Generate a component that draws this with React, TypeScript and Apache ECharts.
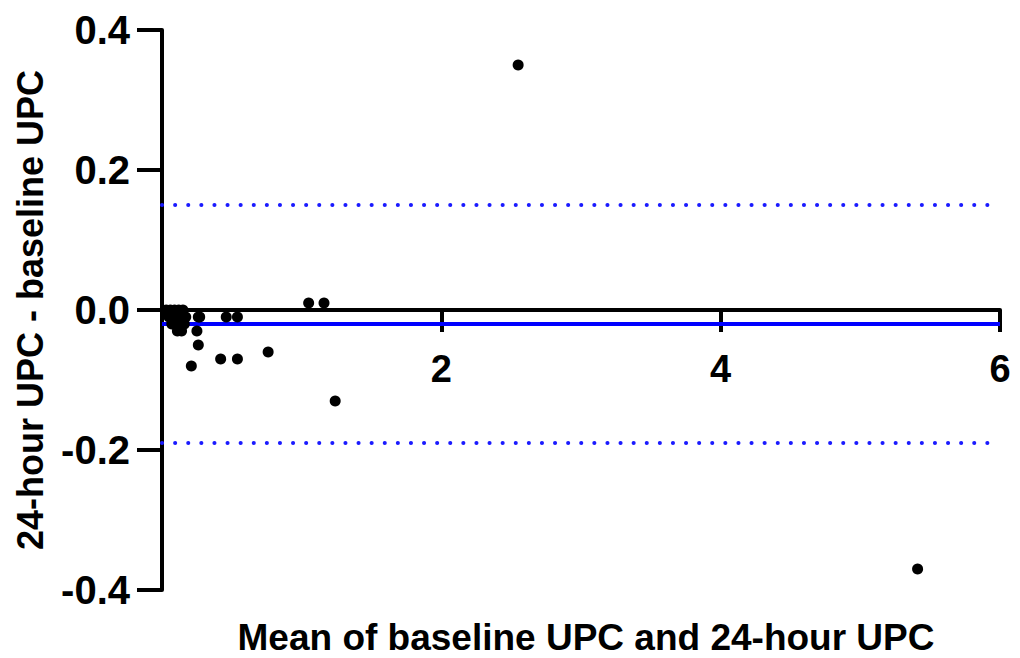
import React, { useEffect, useRef } from "react";
import * as echarts from "echarts";

const meanX: number[] = [0.03, 0.06, 0.09, 0.12, 0.15, 0.05, 0.08, 0.11, 0.14, 0.17, 0.07, 0.1, 0.13, 0.16, 0.11, 0.14, 0.26, 0.27, 0.25, 0.26, 0.21, 0.46, 0.54, 0.42, 0.54, 0.76, 1.05, 1.16, 1.24, 2.55, 5.41];
const diffY: number[] = [0.0, 0.0, 0.0, 0.0, 0.0, -0.01, -0.01, -0.01, -0.01, -0.01, -0.02, -0.02, -0.02, -0.02, -0.03, -0.03, -0.01, -0.01, -0.03, -0.05, -0.08, -0.01, -0.01, -0.07, -0.07, -0.06, 0.01, 0.01, -0.13, 0.35, -0.37];
const bias = -0.02;
const limitsOfAgreement: number[] = [0.147, -0.19];
const yTicks: number[] = [-0.4, -0.2, 0, 0.2, 0.4];

const FONT = "'Liberation Sans', Arial, sans-serif";

export default function App() {
  const ref = useRef<HTMLDivElement>(null);
  useEffect(() => {
    if (!ref.current) return;
    const chart = echarts.init(ref.current, null, { renderer: "svg" });
    const points = meanX.map((x, i) => [x, diffY[i]]);
    chart.setOption({
      animation: false,
      backgroundColor: "#ffffff",
      grid: { left: 162, right: 20, top: 30, bottom: 68, containLabel: false, outerBoundsMode: "none" },
      title: {
        text: "Mean of baseline UPC and 24-hour UPC",
        left: 586,
        textAlign: "center",
        top: 618,
        padding: 0,
        textStyle: { fontFamily: FONT, fontWeight: "bold", fontSize: 37, lineHeight: 38, color: "#000" },
      },
      xAxis: {
        type: "value",
        min: 0,
        max: 6,
        interval: 2,
        axisLine: { onZero: true, lineStyle: { color: "#000", width: 4 } },
        axisTick: { show: true, inside: false, length: 22, lineStyle: { color: "#000", width: 4 } },
        axisLabel: {
          margin: -240,
          fontFamily: FONT,
          fontWeight: "bold",
          fontSize: 38,
          color: "#000",
          formatter: (v: number) => (v === 0 ? "" : String(v)),
        },
        splitLine: { show: false },
      },
      yAxis: {
        type: "value",
        min: -0.4,
        max: 0.4,
        interval: 0.2,
        name: "24-hour UPC - baseline UPC",
        nameLocation: "middle",
        nameGap: 114,
        nameTextStyle: { fontFamily: FONT, fontWeight: "bold", fontSize: 36, color: "#000" },
        axisLine: { onZero: false, lineStyle: { color: "#000", width: 4 } },
        axisTick: { show: true, inside: false, length: 25, lineStyle: { color: "#000", width: 4 } },
        axisLabel: {
          margin: 32,
          fontFamily: FONT,
          fontWeight: "bold",
          fontSize: 40,
          color: "#000",
          formatter: (v: number) => {
            const t = yTicks.find((k) => Math.abs(k - v) < 1e-9);
            return (t !== undefined ? t : v).toFixed(1);
          },
        },
        splitLine: { show: false },
      },
      series: [
        {
          type: "line",
          data: [],
          silent: true,
          markLine: {
            symbol: "none",
            silent: true,
            label: { show: false },
            data: [
              { yAxis: bias, lineStyle: { color: "#0000ff", width: 4, type: "solid" } },
              ...limitsOfAgreement.map((v) => ({
                yAxis: v,
                lineStyle: { color: "#1a1aff", width: 4, type: [0.1, 13], cap: "round" },
              })),
            ],
          },
          z: 1,
        },
        {
          type: "scatter",
          data: points,
          symbol: "circle",
          symbolSize: 11,
          itemStyle: { color: "#000", opacity: 1 },
          z: 5,
        },
      ],
    });
    return () => chart.dispose();
  }, []);
  return <div ref={ref} style={{ width: 1020, height: 658, position: "absolute", left: 0, top: 0 }} />;
}
